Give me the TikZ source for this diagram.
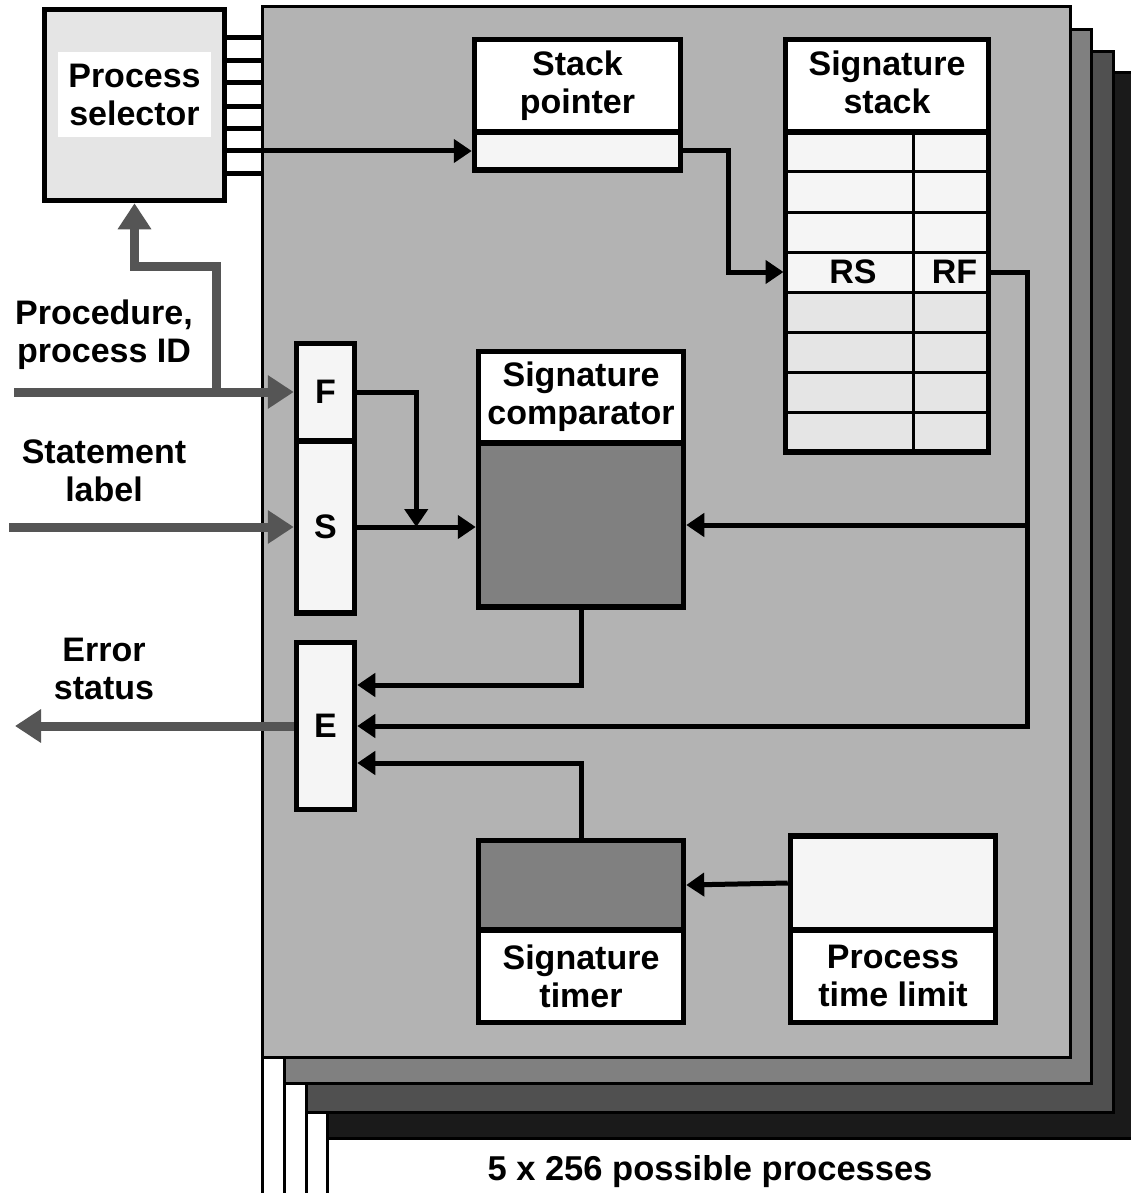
\documentclass[tikz,border=0pt]{standalone}
\usepackage{fontspec}
\setmainfont{Liberation Sans}
\usetikzlibrary{arrows.meta}
\definecolor{page1}{HTML}{B3B3B3}
\definecolor{page2}{HTML}{808080}
\definecolor{page3}{HTML}{505050}
\definecolor{page4}{HTML}{1A1A1A}
\definecolor{cellgray}{HTML}{F5F5F5}
\definecolor{rowgray}{HTML}{E5E5E5}
\definecolor{darkcell}{HTML}{808080}
\definecolor{feedgray}{HTML}{555555}

\begin{document}
\begin{tikzpicture}[x=1pt,y=-1pt,
  layer/.style={draw,line width=3pt,inner sep=0pt,outer sep=0pt},
  box/.style={draw,line width=5.5pt,inner sep=0pt,align=center,font=\bfseries\fontsize{34}{38}\selectfont},
  head/.style={box,fill=white},
  cell/.style={draw,line width=3pt,inner sep=0pt},
  link/.style={line width=5pt,-{Triangle[length=18pt,width=23pt]}},
  rung/.style={line width=5pt},
  feed/.style={line width=9pt,draw=feedgray,-{Triangle[length=26pt,width=32pt]}},
  lbl/.style={align=center,inner sep=0pt,font=\bfseries\fontsize{34}{38}\selectfont}]
\useasboundingbox (0,0) rectangle (1130,1193);
\fill[white] (0,0) rectangle (1130,1193);

% stacked process pages
\node[layer,fill=page4,minimum width=810pt,minimum height=1065pt] (lay4) at (732,605.5) {};
\node[layer,fill=page3,minimum width=807pt,minimum height=1060pt] (lay3) at (709.5,582) {};
\node[layer,fill=page2,minimum width=807pt,minimum height=1053pt] (lay2) at (687.5,556.5) {};
\node[layer,fill=page1,minimum width=808pt,minimum height=1050pt] (lay1) at (666,532) {};
\foreach \n in {1,...,4}
  \draw[line width=3pt] (lay\n.south west) -- (lay\n.west |- 0,1193);

% process selector
\node[box,fill=rowgray,minimum width=180pt,minimum height=191pt] (sel) at (134.5,105) {};
\node[lbl,fill=white,minimum width=153pt,minimum height=85pt] (selt) at (134.5,94.5) {Process\\selector};

% stack pointer and signature stack
\node[head,minimum width=206pt,minimum height=93pt] (sph) at (577.5,86) {Stack\\pointer};
\node[box,fill=cellgray,minimum width=206pt,minimum height=38pt] (spb) at (577.5,151) {};
\node[head,minimum width=203pt,minimum height=93pt] (ssh) at (887,86) {};
\node[lbl] (sstxt) at (887,82) {Signature\\stack};
\foreach \i/\rc in {1/cellgray,2/cellgray,3/cellgray,4/cellgray,5/rowgray,6/rowgray,7/rowgray,8/rowgray} {
  \node[cell,fill=\rc,minimum width=128pt,minimum height=40pt] (rs\i) at (849,{112+40*\i}) {};
  \node[cell,fill=\rc,minimum width=75pt,minimum height=40pt] (rf\i) at (950.5,{112+40*\i}) {};
}
\draw[line width=5.5pt] (785.5,132) rectangle (988.5,452);
\node[lbl] (rstxt) at ([xshift=4pt]rs4) {RS};
\node[lbl] (rftxt) at ([xshift=4pt]rf4) {RF};

% comparator
\node[head,minimum width=205pt,minimum height=91.5pt] (sch) at (581,397) {Signature\\comparator};
\node[box,fill=darkcell,minimum width=205pt,minimum height=163.5pt] (scb) at (581,525) {};

% F, S and E registers
\node[box,fill=cellgray,minimum width=58pt,minimum height=97.5pt] (F) at (325.5,392) {F};
\node[box,fill=cellgray,minimum width=58pt,minimum height=171.5pt] (S) at (325.5,527) {S};
\node[box,fill=cellgray,minimum width=58pt,minimum height=167pt] (E) at (325.5,726) {E};

% timer and time limit
\node[box,fill=darkcell,minimum width=205pt,minimum height=89.5pt] (stb) at (581,885) {};
\node[head,minimum width=205pt,minimum height=92.5pt] (stl) at (581,976) {Signature\\timer};
\node[box,fill=cellgray,minimum width=205pt,minimum height=94.5pt] (ptb) at (893,883) {};
\node[head,minimum width=205pt,minimum height=92.5pt] (ptl) at (893,976) {Process\\time limit};

% selector outputs
\foreach \y in {38,61,83,107,129,174}
  \draw[rung] (sel.east |- 0,\y) -- (lay1.west |- 0,\y);
\draw[link] (sel.east |- spb.west) -- (spb.west);

% connections inside a page
\draw[link] (spb.east) -- ++(45,0) |- (rs4.west);
\draw[link] (rf4.east) -- ++(38,0) coordinate (rfk) |- (E.east);
\draw[link] (rfk |- scb.east) -- (scb.east);
\draw[link] (scb.south) |- ([yshift=41pt]E.east);
\draw[link] (stb.north) |- ([yshift=-37pt]E.east);
\draw[link] (ptb.west) -- (stb.east);
\draw[link] (F.east) -- ++(59,0) coordinate (fk) -- (fk |- S.east);
\draw[link] (S.east) -- (S.east -| scb.west);

% outside signals
\coordinate (pid) at (14,392);
\coordinate (fork) at (216,392);
\coordinate (stmt) at (9,527);
\coordinate (err) at (15,726);
\draw[feed] (pid) -- (F.west);
\draw[feed] (fork) -- ++(0,-126) -| (sel.south);
\draw[feed] (stmt) -- (S.west);
\draw[feed] (E.west) -- (err);

\node[lbl] (pidtxt) at (104,335) {Procedure,\\process ID};
\node[lbl] (stmttxt) at (104,471) {Statement\\label};
\node[lbl] (errtxt) at (104,669) {Error\\status};
\node[lbl,anchor=base,font=\bfseries\fontsize{34.5}{38}\selectfont] (count) at (710,1180) {5 x 256 possible processes};
\end{tikzpicture}
\end{document}
